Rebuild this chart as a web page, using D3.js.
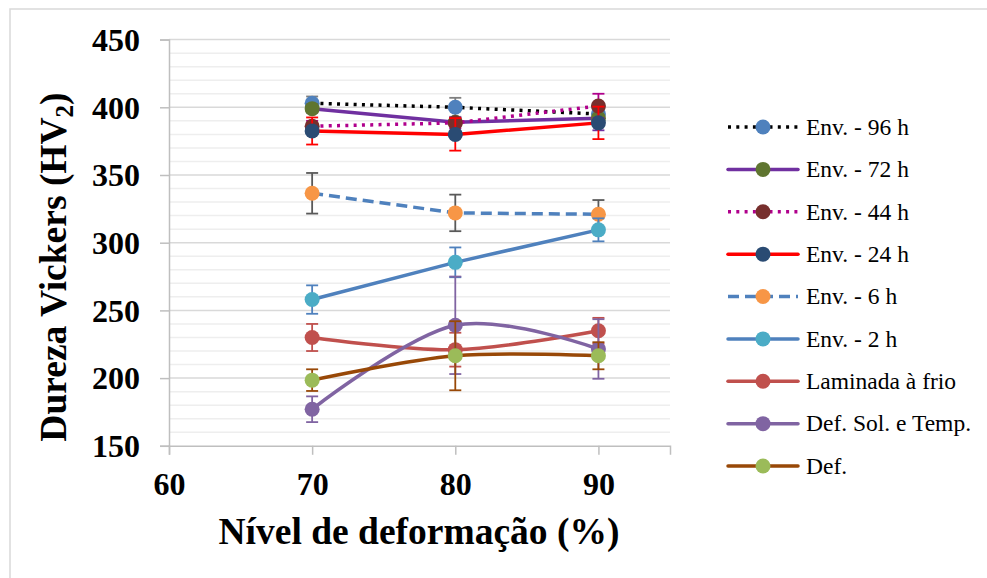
<!DOCTYPE html>
<html>
<head>
<meta charset="utf-8">
<script src="https://cdn.jsdelivr.net/npm/d3@7"></script>
<style>
  html, body { margin: 0; padding: 0; background: #fff; }
  svg { display: block; }
</style>
</head>
<body>
<svg id="chart" width="987" height="578"></svg>
<script>
// Deformation levels (%) on the x axis
const levels = [70, 80, 90];

// Vickers hardness per series, one value per deformation level
const env96 = [403, 400, 395];
const env72 = [399, 389, 392];
const env44 = [386, 388.5, 401];
const env24 = [382.5, 380, 388.5];
const env6 = [336.5, 322, 321];
const env2 = [258, 285.5, 309.5];
const laminada = [230, 221, 235];
const defSolTemp = [177, 239, 221.5];
const def = [198.5, 216.5, 216.5];

// Error bar half-widths (HV) per series
const env96Err = [5, 7, 4];
const env72Err = [3, 3, 9];
const env44Err = [4, 4, 9];
const env24Err = [10, 12, 12];
const env6Err = [15, 13.5, 10.5];
const env2Err = [10.5, 11, 8.5];
const laminadaErr = [10, 12.5, 9.5];
const defSolTempErr = [9.5, 36, 22];
const defErr = [8, 25.5, 10];

const seriesNames = ["Env. - 96 h", "Env. - 72 h", "Env. - 44 h", "Env. - 24 h",
  "Env. - 6 h", "Env. - 2 h", "Laminada à frio", "Def. Sol. e Temp.", "Def."];

const xTicks = [60, 70, 80, 90];
const yTicks = [150, 200, 250, 300, 350, 400, 450];

// Styling per series
const styles = [
  { line: "#000000", marker: "#4f81bd", dash: "3,5.3", err: "#7f7f7f", smooth: false },
  { line: "#7030a0", marker: "#5f7530", dash: null, err: "#7030a0", smooth: false },
  { line: "#b0008c", marker: "#772f2d", dash: "3,5.3", err: "#b0008c", smooth: false },
  { line: "#ff0000", marker: "#2a4b73", dash: null, err: "#ff0000", smooth: false },
  { line: "#4f81bd", marker: "#f79646", dash: "11,6", err: "#595959", smooth: false },
  { line: "#4f81bd", marker: "#4bacc6", dash: null, err: "#4f81bd", smooth: false },
  { line: "#c0504d", marker: "#c0504d", dash: null, err: "#c0504d", smooth: true },
  { line: "#8064a2", marker: "#8064a2", dash: null, err: "#8064a2", smooth: true },
  { line: "#984807", marker: "#9bbb59", dash: null, err: "#984807", smooth: true }
];

const values = [env96, env72, env44, env24, env6, env2, laminada, defSolTemp, def];
const errors = [env96Err, env72Err, env44Err, env24Err, env6Err, env2Err, laminadaErr, defSolTempErr, defErr];

const series = seriesNames.map((name, i) => ({
  name,
  style: styles[i],
  points: levels.map((lv, j) => ({ x: lv, y: values[i][j], e: errors[i][j] }))
}));

const svg = d3.select("#chart");
const serif = "'Liberation Serif', 'Times New Roman', serif";

// Outer chart frame
svg.append("rect")
  .attr("x", 10).attr("y", 9).attr("width", 1000).attr("height", 600)
  .attr("fill", "#fff").attr("stroke", "#d9d9d9").attr("stroke-width", 1.5);

const x = d3.scaleLinear().domain([60, 95]).range([169, 670]);
const y = d3.scaleLinear().domain([150, 450]).range([445.8, 39.6]);

// Gridlines: minor every 10 HV, major every 50 HV
const grid = svg.append("g");
grid.selectAll("line.minor")
  .data(d3.range(160, 451, 10).filter(v => v % 50 !== 0))
  .join("line")
  .attr("x1", x(60)).attr("x2", x(95))
  .attr("y1", d => y(d)).attr("y2", d => y(d))
  .attr("stroke", "#eeeeee").attr("stroke-width", 1.5);
grid.selectAll("line.major")
  .data(yTicks.filter(v => v > 150))
  .join("line")
  .attr("x1", x(60)).attr("x2", x(95))
  .attr("y1", d => y(d)).attr("y2", d => y(d))
  .attr("stroke", "#d9d9d9").attr("stroke-width", 1.5);

// Axes
const yAxis = d3.axisLeft(y).tickValues(yTicks).tickSize(9).tickPadding(20);
const xAxis = d3.axisBottom(x).tickValues(xTicks).tickSize(9).tickPadding(17);

const gy = svg.append("g").attr("transform", `translate(${x(60)},0)`).call(yAxis);
const gx = svg.append("g").attr("transform", `translate(0,${y(150)})`).call(xAxis);

[gx, gy].forEach(g => {
  g.select(".domain").attr("stroke", "#bfbfbf").attr("stroke-width", 1.5);
  g.selectAll(".tick line").attr("stroke", "#bfbfbf").attr("stroke-width", 1.5);
  g.selectAll(".tick text")
    .attr("font-family", serif).attr("font-weight", "bold")
    .attr("font-size", 32).attr("fill", "#000");
});
gy.selectAll(".tick text").attr("dy", "0.34em");
gx.selectAll(".tick text").attr("dy", "0.71em");

// Axis titles
svg.append("text")
  .attr("x", 419).attr("y", 544)
  .attr("text-anchor", "middle")
  .attr("font-family", serif).attr("font-weight", "bold").attr("font-size", 37.5)
  .text("Nível de deformação (%)");

const yTitle = svg.append("text")
  .attr("transform", "translate(66,267) rotate(-90)")
  .attr("text-anchor", "middle")
  .attr("font-family", serif).attr("font-weight", "bold").attr("font-size", 37.5);
yTitle.append("tspan").text("Dureza Vickers (HV");
yTitle.append("tspan").attr("font-size", 25).attr("dy", 7).text("2");
yTitle.append("tspan").attr("dy", -7).text(")");

// Series: line, error bars, then markers
const plot = svg.append("g");
series.forEach(s => {
  const g = plot.append("g");
  const line = d3.line()
    .x(d => x(d.x)).y(d => y(d.y))
    .curve(s.style.smooth ? d3.curveCatmullRom.alpha(0) : d3.curveLinear);

  g.append("path")
    .attr("d", line(s.points))
    .attr("fill", "none")
    .attr("stroke", s.style.line)
    .attr("stroke-width", 3.5)
    .attr("stroke-linecap", s.style.dash ? "butt" : "round")
    .attr("stroke-dasharray", s.style.dash);

  const eb = g.selectAll("g.eb").data(s.points).join("g")
    .attr("stroke", s.style.err).attr("stroke-width", 1.8);
  eb.append("line")
    .attr("x1", d => x(d.x)).attr("x2", d => x(d.x))
    .attr("y1", d => y(d.y - d.e)).attr("y2", d => y(d.y + d.e));
  eb.append("line")
    .attr("x1", d => x(d.x) - 6).attr("x2", d => x(d.x) + 6)
    .attr("y1", d => y(d.y + d.e)).attr("y2", d => y(d.y + d.e));
  eb.append("line")
    .attr("x1", d => x(d.x) - 6).attr("x2", d => x(d.x) + 6)
    .attr("y1", d => y(d.y - d.e)).attr("y2", d => y(d.y - d.e));

  g.selectAll("circle").data(s.points).join("circle")
    .attr("cx", d => x(d.x)).attr("cy", d => y(d.y))
    .attr("r", 7.5)
    .attr("fill", s.style.marker);
});

// Legend
const legend = svg.append("g");
const rowY = d3.scaleLinear().domain([0, series.length - 1]).range([127, 466]);
series.forEach((s, i) => {
  const ry = rowY(i);
  const item = legend.append("g");
  item.append("line")
    .attr("x1", 728).attr("x2", 798).attr("y1", ry).attr("y2", ry)
    .attr("stroke", s.style.line).attr("stroke-width", 3.5)
    .attr("stroke-linecap", s.style.dash ? "butt" : "round")
    .attr("stroke-dasharray", s.style.dash);
  item.append("circle")
    .attr("cx", 763).attr("cy", ry).attr("r", 7.5).attr("fill", s.style.marker);
  item.append("text")
    .attr("x", 806).attr("y", ry).attr("dy", "0.33em")
    .attr("font-family", serif).attr("font-size", 23.5).attr("fill", "#000")
    .text(s.name);
});
</script>
</body>
</html>
